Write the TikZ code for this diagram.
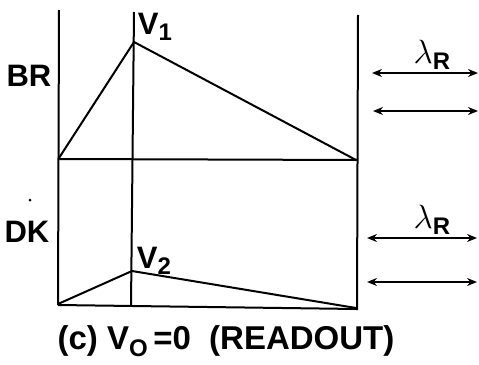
\documentclass[tikz,border=0pt]{standalone}
\usepackage{fontspec}
\setmainfont{Liberation Sans}
\usetikzlibrary{arrows.meta}
\newcommand{\sbs}[1]{\raisebox{-0.4ex}{\fontsize{24}{26}\selectfont #1}}
\newcommand{\lam}{\scalebox{1.35}{$\lambda$}}
\begin{document}
\begin{tikzpicture}[x=1pt,y=-1pt,
  ln/.style={line width=2pt},
  lab/.style={font=\fontsize{31}{33}\selectfont\bfseries, inner sep=0pt},
  dbl/.style={line width=1.6pt,{Stealth[length=10pt,width=8pt]}-{Stealth[length=10pt,width=8pt]}}]
\useasboundingbox (0,0) rectangle (479,364);
% verticals
\coordinate (L1) at (59,10); \coordinate (L2) at (58,305);
\coordinate (M1) at (134,12); \coordinate (M2) at (131,306);
\coordinate (R1) at (358,15); \coordinate (R2) at (357,310);
\draw[ln] (L1) -- (L2);
\draw[ln] (M1) -- (M2);
\draw[ln] (R1) -- (R2);
% upper panel
\coordinate (A) at (59,158); \coordinate (V1) at (134,42); \coordinate (B) at (356,160);
\draw[ln] (59,159) -- (358,160);
\draw[ln] (A) -- (V1) -- (B);
% lower panel
\coordinate (C) at (58,304); \coordinate (V2) at (132,271); \coordinate (D) at (356,308);
\draw[ln] (58,305) -- (357,309);
\draw[ln] (C) -- (V2) -- (D);
% labels
\node[lab] (v1) at (155,27) {V\sbs{1}};
\node[lab] (br) at (29,76) {BR};
\node[lab] (dk) at (27,232) {DK};
\node[lab] (v2) at (154,261) {V\sbs{2}};
\fill (30,200) circle (1.5pt);
% arrows
\coordinate (a1l) at (372,73); \coordinate (a1r) at (478,73);
\coordinate (a2l) at (373,111); \coordinate (a2r) at (478,111);
\coordinate (a3l) at (367,238); \coordinate (a3r) at (477,238);
\coordinate (a4l) at (367,282); \coordinate (a4r) at (477,282);
\draw[dbl] (a1l) -- (a1r);
\draw[dbl] (a2l) -- (a2r);
\draw[dbl] (a3l) -- (a3r);
\draw[dbl] (a4l) -- (a4r);
\node[lab] (l1) at (432,55) {\lam\sbs{R}};
\node[lab] (l2) at (432,220) {\lam\sbs{R}};
\node[lab] (cap) at (226,341) {\fontsize{33}{35}\selectfont (c) V\sbs{O}\,=0\ \ (READOUT)};
\end{tikzpicture}
\end{document}
